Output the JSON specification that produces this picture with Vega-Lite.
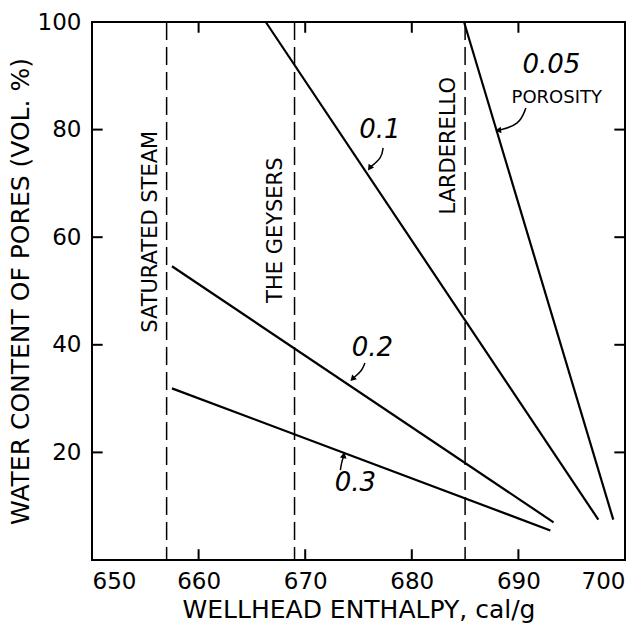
{
  "$schema": "https://vega.github.io/schema/vega-lite/v6.json",
  "width": 533,
  "height": 538,
  "autosize": "none",
  "padding": {"left": 92, "top": 22, "right": 17, "bottom": 66},
  "background": "white",
  "config": {
    "view": {"stroke": "black", "strokeWidth": 2},
    "axis": {
      "grid": false,
      "domain": false,
      "ticks": false,
      "labelColor": "black",
      "titleColor": "black",
      "labelFont": "DejaVu Sans",
      "titleFont": "DejaVu Sans",
      "labelFontSize": 23,
      "titleFontSize": 25,
      "titleFontWeight": "normal"
    }
  },
  "datasets": {
    "sites": [
      {"site": "SATURATED STEAM", "enthalpy": 657, "lx": 655.5, "ly": 61},
      {"site": "THE GEYSERS", "enthalpy": 669, "lx": 667.3, "ly": 61.3},
      {"site": "LARDERELLO", "enthalpy": 685, "lx": 683.5, "ly": 77}
    ],
    "curves": [
      {"porosity": "0.3", "enthalpy": 657.5, "water": 31.9},
      {"porosity": "0.3", "enthalpy": 693.0, "water": 5.5},
      {"porosity": "0.2", "enthalpy": 657.5, "water": 54.6},
      {"porosity": "0.2", "enthalpy": 693.3, "water": 7.0},
      {"porosity": "0.1", "enthalpy": 666.3, "water": 100},
      {"porosity": "0.1", "enthalpy": 697.5, "water": 7.5},
      {"porosity": "0.05", "enthalpy": 684.9, "water": 100},
      {"porosity": "0.05", "enthalpy": 698.9, "water": 7.5}
    ],
    "labels": [
      {"text": "0.1", "x": 677.0, "y": 79.9},
      {"text": "0.05", "x": 693.1, "y": 92},
      {"text": "0.2", "x": 676.3, "y": 39.4},
      {"text": "0.3", "x": 674.7, "y": 14.3}
    ],
    "arrows": [
      {"arrow": "0.1", "order": 1, "x": 677.3, "y": 76.6},
      {"arrow": "0.1", "order": 2, "x": 677.2, "y": 74.8},
      {"arrow": "0.1", "order": 3, "x": 676.1, "y": 73.0},
      {"arrow": "0.05", "order": 1, "x": 690.7, "y": 84.0},
      {"arrow": "0.05", "order": 2, "x": 690.1, "y": 80.9},
      {"arrow": "0.05", "order": 3, "x": 688.2, "y": 79.9},
      {"arrow": "0.2", "order": 1, "x": 675.6, "y": 36.6},
      {"arrow": "0.2", "order": 2, "x": 675.3, "y": 35.1},
      {"arrow": "0.2", "order": 3, "x": 674.5, "y": 33.8},
      {"arrow": "0.3", "order": 1, "x": 673.3, "y": 16.7},
      {"arrow": "0.3", "order": 2, "x": 673.4, "y": 18.0},
      {"arrow": "0.3", "order": 3, "x": 673.6, "y": 19.3}
    ],
    "xticks": [{"enthalpy": 660}, {"enthalpy": 670}, {"enthalpy": 680}, {"enthalpy": 690}],
    "yticks": [{"water": 20}, {"water": 40}, {"water": 60}, {"water": 80}]
  },
  "layer": [
    {
      "data": {"name": "sites"},
      "mark": {"type": "rule", "color": "black", "strokeWidth": 1.5, "strokeDash": [18, 7]},
      "encoding": {
        "x": {
          "field": "enthalpy", "type": "quantitative",
          "scale": {"domain": [650, 700], "nice": false},
          "axis": {"orient": "bottom", "values": [650, 660, 670, 680, 690, 700], "labelPadding": 10, "title": "WELLHEAD ENTHALPY,  cal/g", "titlePadding": 4}
        }
      }
    },
    {
      "data": {"name": "curves"},
      "mark": {"type": "line", "color": "black", "strokeWidth": 2.2},
      "encoding": {
        "x": {"field": "enthalpy", "type": "quantitative", "scale": {"domain": [650, 700], "nice": false}},
        "y": {"field": "water", "type": "quantitative", "scale": {"domain": [0, 100], "nice": false},
          "axis": {"orient": "left", "values": [20, 40, 60, 80, 100], "labelPadding": 11, "title": "WATER CONTENT OF PORES (VOL. %)", "titlePadding": 4}},
        "detail": {"field": "porosity"}
      }
    },
    {
      "data": {"name": "xticks"},
      "mark": {"type": "rule", "color": "black", "strokeWidth": 2},
      "encoding": {"x": {"field": "enthalpy", "type": "quantitative"}, "y": {"datum": 0, "type": "quantitative"}, "y2": {"datum": 2}}
    },
    {
      "data": {"name": "xticks"},
      "mark": {"type": "rule", "color": "black", "strokeWidth": 2},
      "encoding": {"x": {"field": "enthalpy", "type": "quantitative"}, "y": {"datum": 100, "type": "quantitative"}, "y2": {"datum": 98}}
    },
    {
      "data": {"name": "yticks"},
      "mark": {"type": "rule", "color": "black", "strokeWidth": 2},
      "encoding": {"y": {"field": "water", "type": "quantitative"}, "x": {"datum": 650, "type": "quantitative"}, "x2": {"datum": 651}}
    },
    {
      "data": {"name": "yticks"},
      "mark": {"type": "rule", "color": "black", "strokeWidth": 2},
      "encoding": {"y": {"field": "water", "type": "quantitative"}, "x": {"datum": 700, "type": "quantitative"}, "x2": {"datum": 699}}
    },
    {
      "data": {"name": "sites"},
      "mark": {"type": "text", "angle": 270, "align": "center", "baseline": "middle", "font": "DejaVu Sans", "fontSize": 21, "color": "black"},
      "encoding": {
        "x": {"field": "lx", "type": "quantitative"},
        "y": {"field": "ly", "type": "quantitative"},
        "text": {"field": "site"}
      }
    },
    {
      "data": {"name": "labels"},
      "mark": {"type": "text", "align": "center", "baseline": "middle", "font": "DejaVu Sans", "fontStyle": "italic", "fontSize": 26, "color": "black"},
      "encoding": {
        "x": {"field": "x", "type": "quantitative"},
        "y": {"field": "y", "type": "quantitative"},
        "text": {"field": "text"}
      }
    },
    {
      "data": {"values": [{"text": "POROSITY", "x": 693.6, "y": 85.9}]},
      "mark": {"type": "text", "align": "center", "baseline": "middle", "font": "DejaVu Sans", "fontSize": 18, "color": "black"},
      "encoding": {
        "x": {"field": "x", "type": "quantitative"},
        "y": {"field": "y", "type": "quantitative"},
        "text": {"field": "text"}
      }
    },
    {
      "data": {"name": "arrows"},
      "mark": {"type": "line", "color": "black", "strokeWidth": 1.5, "interpolate": "basis"},
      "encoding": {
        "x": {"field": "x", "type": "quantitative"},
        "y": {"field": "y", "type": "quantitative"},
        "detail": {"field": "arrow"},
        "order": {"field": "order"}
      }
    },
    {
      "data": {"name": "arrows"},
      "transform": [{"filter": "datum.order == 3 && datum.arrow == '0.1'"}],
      "mark": {"type": "point", "shape": "triangle", "filled": true, "color": "black", "size": 45, "angle": 215, "opacity": 1},
      "encoding": {"x": {"field": "x", "type": "quantitative"}, "y": {"field": "y", "type": "quantitative"}}
    },
    {
      "data": {"name": "arrows"},
      "transform": [{"filter": "datum.order == 3 && datum.arrow == '0.05'"}],
      "mark": {"type": "point", "shape": "triangle", "filled": true, "color": "black", "size": 45, "angle": 265, "opacity": 1},
      "encoding": {"x": {"field": "x", "type": "quantitative"}, "y": {"field": "y", "type": "quantitative"}}
    },
    {
      "data": {"name": "arrows"},
      "transform": [{"filter": "datum.order == 3 && datum.arrow == '0.2'"}],
      "mark": {"type": "point", "shape": "triangle", "filled": true, "color": "black", "size": 45, "angle": 225, "opacity": 1},
      "encoding": {"x": {"field": "x", "type": "quantitative"}, "y": {"field": "y", "type": "quantitative"}}
    },
    {
      "data": {"name": "arrows"},
      "transform": [{"filter": "datum.order == 3 && datum.arrow == '0.3'"}],
      "mark": {"type": "point", "shape": "triangle", "filled": true, "color": "black", "size": 45, "angle": 10, "opacity": 1},
      "encoding": {"x": {"field": "x", "type": "quantitative"}, "y": {"field": "y", "type": "quantitative"}}
    }
  ]
}
